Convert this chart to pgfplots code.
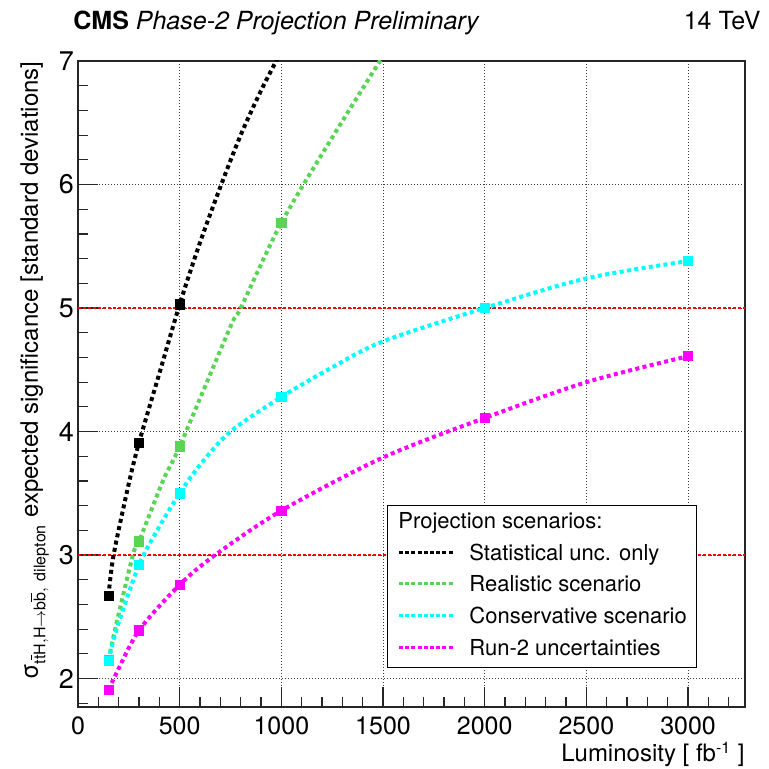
\documentclass[border=0pt]{standalone}
\usepackage{fontspec}
\setmainfont{TeX Gyre Heros}
\usepackage{pgfplots}
\pgfplotsset{compat=1.18}
\usetikzlibrary{calc}
\definecolor{rgreen}{RGB}{89,212,84}
\definecolor{rcyan}{RGB}{0,255,255}
\definecolor{rmagenta}{RGB}{255,0,255}
\pgfplotsset{
  curve/.style={smooth, no marks, line width=2pt, dash pattern=on 2pt off 1.7pt},
  pts/.style={only marks, mark=square*, mark size=2.3pt, forget plot},
}
\begin{document}
\begin{tikzpicture}
\begin{axis}[
  scale only axis,
  width=333.5pt, height=323pt,
  xmin=0, xmax=3280, ymin=1.77, ymax=7,
  xtick={0,500,...,3000}, ytick={2,3,4,5,6,7},
  minor xtick={100,200,...,3200},
  minor ytick={1.8,2.2,2.4,2.6,2.8,3.2,3.4,3.6,3.8,4.2,4.4,4.6,4.8,5.2,5.4,5.6,5.8,6.2,6.4,6.6,6.8},
  tick align=inside, xtick pos=left, ytick pos=left,
  major tick length=10pt, minor tick length=5pt,
  tick style={line width=0.6pt, black!85},
  axis line style={line width=0.65pt, black!85},
  grid=major,
  major grid style={black!75, line width=0.5pt, dash pattern=on 0.5pt off 1pt},
  /pgf/number format/assume math mode=true,
  /pgf/number format/1000 sep={},
  scaled x ticks=false,
  xticklabel style={font=\fontsize{12.5}{14}\selectfont, inner ysep=4.6pt},
  yticklabel style={font=\fontsize{13.5}{15}\selectfont, inner xsep=1.8pt},
  xlabel={Luminosity [ fb\textsuperscript{-1} ]},
  xlabel style={at={(axis description cs:1,-0.085)}, anchor=base east, font=\fontsize{12}{14}\selectfont, inner sep=0pt},
  ylabel={σ$_{\mathrm{t\overline{t}H,H\rightarrow b\overline{b},\ dilepton}}$ expected significance [standard deviations]},
  ylabel style={at={(axis description cs:-0.060,1)}, anchor=base east, font=\fontsize{12}{14}\selectfont, inner sep=0pt},
  legend style={
    at={(0.463,0.3127)}, anchor=north west,
    draw=black, line width=0.6pt, fill=white,
    font=\fontsize{11}{13}\selectfont,
    inner xsep=5pt, inner ysep=3.5pt,
    row sep=5.35pt, column sep=7pt,
    nodes={inner sep=0pt, text height=8pt, text depth=2.5pt},
    cells={anchor=base west},
  },
  legend image code/.code={\draw[#1, line width=1.5pt, dash pattern=on 2pt off 1.1pt] (0pt,4pt) -- (27.5pt,4pt);},
]
% reference lines at 3 and 5 sigma
\addplot[red, line width=0.75pt, dash pattern=on 1.5pt off 1pt, forget plot] coordinates {(0,3) (3280,3)};
\addplot[red, line width=0.75pt, dash pattern=on 1.5pt off 1pt, forget plot] coordinates {(0,5) (3280,5)};

\addlegendimage{empty legend}
\addlegendentry{\hspace*{-35.5pt}Projection scenarios:}

% statistical only
\addplot[curve, black] coordinates {
  (150,2.67) (175,3.0) (250,3.58) (300,3.91) (400,4.47) (500,5.03)
  (600,5.53) (700,5.98) (800,6.40) (900,6.76) (1000,7.08)
};
\addlegendentry{Statistical unc. only}
\addplot[pts, black] coordinates {(150,2.67) (300,3.91) (500,5.03)};

% realistic
\addplot[curve, rgreen] coordinates {
  (150,2.15) (180,2.38) (270,3.0) (300,3.11) (420,3.61) (500,3.88)
  (750,4.85) (800,5.0) (1000,5.69) (1250,6.38) (1500,7.04)
};
\addlegendentry{Realistic scenario}
\addplot[pts, rgreen] coordinates {(150,2.15) (300,3.11) (500,3.88) (1000,5.69)};

% conservative
\addplot[curve, rcyan] coordinates {
  (150,2.14) (190,2.40) (300,2.92) (400,3.23) (500,3.50) (600,3.73)
  (750,4.0) (1000,4.28) (1250,4.52) (1500,4.73) (2000,5.0) (2500,5.24) (3000,5.38)
};
\addlegendentry{Conservative scenario\hspace{5pt}}
\addplot[pts, rcyan] coordinates {(150,2.14) (300,2.92) (500,3.50) (1000,4.28) (2000,5.0) (3000,5.38)};

% Run-2 uncertainties
\addplot[curve, rmagenta] coordinates {
  (150,1.91) (182,2.02) (300,2.39) (500,2.76) (674,3.0) (1000,3.36)
  (1500,3.79) (2000,4.11) (2500,4.40) (3000,4.61)
};
\addlegendentry{Run-2 uncertainties}
\addplot[pts, rmagenta] coordinates {(150,1.91) (300,2.39) (500,2.76) (1000,3.36) (2000,4.11) (3000,4.61)};
\end{axis}
\node[anchor=base west, font=\fontsize{12.5}{14}\selectfont, inner sep=0pt] at ($(current axis.north west)+(-2.5pt,15.8pt)$) {\textbf{CMS} \textit{Phase-2 Projection Preliminary}};
\node[anchor=base east, font=\fontsize{12.5}{14}\selectfont, inner sep=0pt] at ($(current axis.north east)+(8pt,15.8pt)$) {14 TeV};
\pgfresetboundingbox
\path ($(current axis.south west)+(-39pt,-31pt)$) rectangle ($(current axis.north east)+(11.5pt,30.5pt)$);
\end{tikzpicture}
\end{document}
